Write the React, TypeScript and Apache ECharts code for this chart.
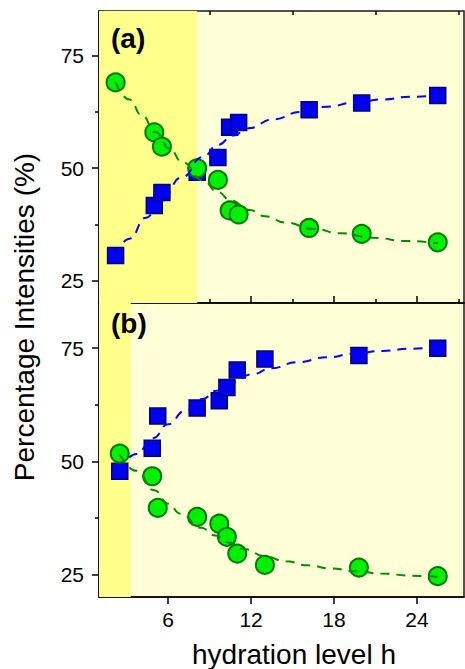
import React, { useEffect, useRef } from "react";
import * as echarts from "echarts";

// ---- data ----
const hA = [2.2, 5.0, 5.55, 8.1, 9.6, 10.45, 11.1, 16.2, 20.0, 25.5];
const blueA = [30.6, 41.7, 44.6, 49.1, 52.4, 59.1, 60.2, 63.0, 64.5, 66.2];
const greenA = [69.1, 58.0, 54.8, 50.0, 47.4, 40.6, 39.7, 36.7, 35.4, 33.5];

const hB = [2.5, 4.85, 5.25, 8.1, 9.7, 10.25, 11.0, 13.0, 19.8, 25.5];
const blueB = [47.8, 52.9, 60.0, 61.8, 63.4, 66.3, 70.2, 72.6, 73.4, 75.0];
const greenB = [51.7, 46.7, 39.7, 37.7, 36.2, 33.3, 29.6, 27.1, 26.5, 24.6];

// dashed fit curves
const fitBlueA = [[2.2, 30.5], [3.2, 34.3], [4.4, 39.0], [5.5, 43.0], [7.0, 48.0], [8.5, 52.5], [9.6, 55.2], [10.7, 57.3], [11.8, 58.9], [13.6, 60.9], [15.6, 62.5], [17.5, 63.7], [19.5, 64.6], [21.5, 65.3], [23.5, 65.9], [25.5, 66.3]];
const fitGreenA = [[2.2, 69.1], [3.2, 65.3], [4.1, 61.8], [5.1, 58.0], [6.1, 54.4], [7.0, 51.4], [8.5, 47.3], [9.6, 44.7], [10.5, 42.9], [11.9, 40.7], [13.0, 39.3], [14.5, 37.9], [16.5, 36.5], [18.5, 35.5], [20.9, 34.5], [23.2, 33.8], [25.5, 33.3]];
const fitBlueB = [[2.5, 48.0], [3.7, 51.6], [4.9, 55.1], [6.0, 58.2], [7.2, 61.1], [8.5, 63.8], [9.5, 65.6], [10.7, 67.5], [12.0, 69.2], [13.5, 70.6], [15.3, 71.9], [17.5, 73.0], [19.5, 73.8], [21.5, 74.4], [23.5, 74.9], [25.5, 75.2]];
const fitGreenB = [[2.5, 51.5], [3.7, 47.9], [5.0, 43.6], [6.0, 40.6], [6.9, 38.4], [8.4, 35.3], [9.4, 33.6], [10.5, 32.0], [11.5, 30.6], [13.0, 29.0], [14.5, 27.9], [16.1, 27.0], [17.8, 26.3], [19.5, 25.7], [21.4, 25.2], [23.6, 24.7], [25.5, 24.4]];

const shadeEndA = 8.1;
const shadeEndB = 3.3;

const xMajor = [6, 12, 18, 24];
const xMinor = [3, 9, 15, 21, 27];
const yMajor = [25, 50, 75];
const yMinor = [37.5, 62.5];

const X_MIN = 1;
const X_MAX = 27.4;
const Y_MIN = 20;
const Y_MAX = 85;

const FONT = "'Liberation Sans', Arial, Helvetica, sans-serif";

export default function App() {
  const ref = useRef<HTMLDivElement>(null);

  useEffect(() => {
    if (!ref.current) return;
    const chart = echarts.init(ref.current, undefined, { renderer: "svg" });

    const zip = (xs: number[], ys: number[]) => xs.map((x, i) => [x, ys[i]]);

    const gridStyle = {
      show: true,
      backgroundColor: "#FFFFD7",
      borderColor: "#1a1a1a",
      borderWidth: 1.5,
    };

    const lineStyle = { color: "#000", width: 1.5 };

    const xMajorAxis = (grid: number, inside: boolean, labels: boolean) => ({
      type: "value",
      gridIndex: grid,
      min: X_MIN,
      max: X_MAX,
      splitLine: { show: false },
      axisLine: { show: true, lineStyle },
      axisTick: { show: true, inside, length: 7, customValues: xMajor, lineStyle },
      axisLabel: labels
        ? { show: true, customValues: xMajor, fontSize: 21, fontFamily: FONT, color: "#000", margin: 12 }
        : { show: false },
    });
    const xMinorAxis = (grid: number, inside: boolean) => ({
      type: "value",
      gridIndex: grid,
      min: X_MIN,
      max: X_MAX,
      splitLine: { show: false },
      axisLine: { show: false },
      axisTick: { show: true, inside, length: 4, customValues: xMinor, lineStyle },
      axisLabel: { show: false },
    });
    const yMajorAxis = (grid: number) => ({
      type: "value",
      gridIndex: grid,
      min: Y_MIN,
      max: Y_MAX,
      splitLine: { show: false },
      axisLine: { show: true, lineStyle },
      axisTick: { show: true, inside: false, length: 7, customValues: yMajor, lineStyle },
      axisLabel: { show: true, customValues: yMajor, fontSize: 21, fontFamily: FONT, color: "#000", margin: 15 },
    });
    const yMinorAxis = (grid: number) => ({
      type: "value",
      gridIndex: grid,
      position: "left",
      min: Y_MIN,
      max: Y_MAX,
      splitLine: { show: false },
      axisLine: { show: false },
      axisTick: { show: true, inside: false, length: 4, customValues: yMinor, lineStyle },
      axisLabel: { show: false },
    });

    const shade = (xi: number, yi: number, end: number) => ({
      type: "line",
      xAxisIndex: xi,
      yAxisIndex: yi,
      data: [[X_MIN, Y_MIN]],
      symbol: "none",
      lineStyle: { width: 0 },
      z: 1,
      silent: true,
      markArea: {
        silent: true,
        itemStyle: { color: "#FFFF8C" },
        data: [[{ xAxis: X_MIN }, { xAxis: end }]],
      },
    });

    const squares = (xi: number, yi: number, data: number[][]) => ({
      type: "scatter",
      xAxisIndex: xi,
      yAxisIndex: yi,
      data,
      symbol: "rect",
      symbolSize: 16,
      itemStyle: { color: "#0000EE", borderColor: "#00007A", borderWidth: 1.5, opacity: 1 },
      z: 3,
    });
    const circles = (xi: number, yi: number, data: number[][]) => ({
      type: "scatter",
      xAxisIndex: xi,
      yAxisIndex: yi,
      data,
      symbol: "circle",
      symbolSize: 18,
      itemStyle: { color: "#00F000", borderColor: "#007A00", borderWidth: 2, opacity: 1 },
      z: 4,
    });
    const fit = (xi: number, yi: number, data: number[][], color: string, dash: number[]) => ({
      type: "line",
      xAxisIndex: xi,
      yAxisIndex: yi,
      data,
      smooth: true,
      smoothMonotone: "x",
      symbol: "none",
      lineStyle: { color, width: 2, type: dash },
      z: 5,
    });

    const option = {
      animation: false,
      backgroundColor: "#ffffff",
      grid: [
        { left: 99, top: 11, width: 365, height: 292, ...gridStyle },
        { left: 99, top: 303, width: 365, height: 294, ...gridStyle },
      ],
      xAxis: [xMajorAxis(0, true, false), xMinorAxis(0, true), xMajorAxis(1, false, true), xMinorAxis(1, false)],
      yAxis: [yMajorAxis(0), yMinorAxis(0), yMajorAxis(1), yMinorAxis(1)],
      series: [
        shade(0, 0, shadeEndA),
        shade(2, 2, shadeEndB),
        squares(0, 0, zip(hA, blueA)),
        circles(0, 0, zip(hA, greenA)),
        fit(0, 0, fitBlueA, "#0000FF", [9, 7]),
        fit(0, 0, fitGreenA, "#008A00", [9, 7]),
        squares(2, 2, zip(hB, blueB)),
        circles(2, 2, zip(hB, greenB)),
        fit(2, 2, fitBlueB, "#0000FF", [9, 7]),
        fit(2, 2, fitGreenB, "#008A00", [9, 7]),
      ],
      graphic: [
        {
          type: "text",
          left: 111,
          top: 24,
          z: 10,
          style: { text: "(a)", fontSize: 28, fontWeight: "bold", fontFamily: FONT, fill: "#000" },
        },
        {
          type: "text",
          left: 111,
          top: 309,
          z: 10,
          style: { text: "(b)", fontSize: 28, fontWeight: "bold", fontFamily: FONT, fill: "#000" },
        },
        {
          type: "text",
          x: 24,
          y: 317,
          rotation: Math.PI / 2,
          z: 10,
          style: {
            text: "Percentage Intensities (%)",
            fontSize: 28,
            fontFamily: FONT,
            fill: "#000",
            align: "center",
            verticalAlign: "middle",
          },
        },
        {
          type: "text",
          x: 294,
          y: 654,
          z: 10,
          style: {
            text: "hydration level h",
            fontSize: 28,
            fontFamily: FONT,
            fill: "#000",
            align: "center",
            verticalAlign: "middle",
          },
        },
      ],
    };

    chart.setOption(option as any);
    return () => chart.dispose();
  }, []);

  return (
    <div
      ref={ref}
      style={{ position: "fixed", left: 0, top: 0, width: 465, height: 669, background: "#fff" }}
    />
  );
}
